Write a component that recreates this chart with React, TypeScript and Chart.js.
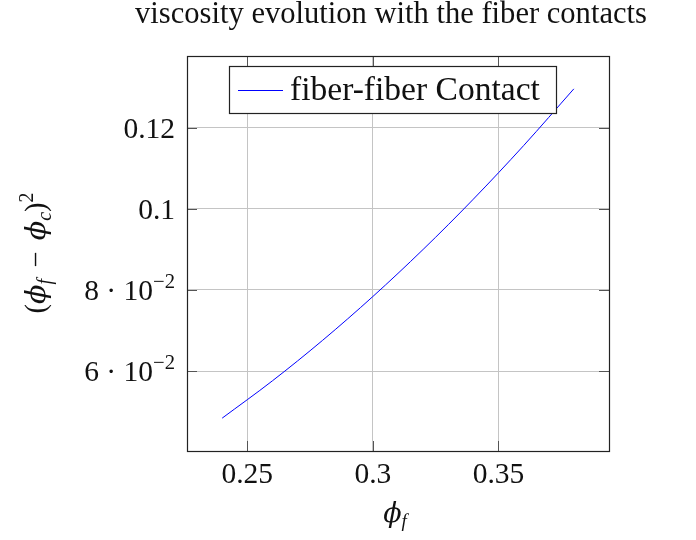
import React, { useEffect, useRef } from "react";
import { Chart, registerables } from "chart.js";
Chart.register(...registerables);

// ---- data ----
const phiF = [0.24, 0.26, 0.28, 0.3, 0.32, 0.34, 0.36, 0.38];
const contactValues = [0.0484, 0.0576, 0.0676, 0.0784, 0.09, 0.1024, 0.1156, 0.1296];
const xTicks = [0.25, 0.3, 0.35];
const xTickLabels = ["0.25", "0.3", "0.35"];
const yTicks = [0.06, 0.08, 0.1, 0.12];
const yTickLabels = ["6 · 10^−2", "8 · 10^−2", "0.1", "0.12"];
const titleText = "viscosity evolution with the fiber contacts";
const seriesLabel = "fiber-fiber Contact";

const SERIF = '"Liberation Serif", "DejaVu Serif", serif';
const MATH = '"DejaVu Serif", "Liberation Serif", serif';

type Seg = { t: string; it?: boolean; sup?: boolean; sub?: boolean; math?: boolean; gap?: number };

function segFont(s: Seg, size: number) {
  const sz = s.sup || s.sub ? size * 0.7 : size;
  return `${s.it ? "italic " : ""}${sz}px ${s.math ? MATH : SERIF}`;
}
function segWidth(ctx: CanvasRenderingContext2D, s: Seg, size: number) {
  ctx.font = segFont(s, size);
  return ctx.measureText(s.t).width + (s.gap || 0) * size;
}
function measureRich(ctx: CanvasRenderingContext2D, segs: Seg[], size: number) {
  let w = 0;
  for (const s of segs) w += segWidth(ctx, s, size);
  return w;
}
function fitSize(ctx: CanvasRenderingContext2D, segs: Seg[], target: number) {
  return (24 * target) / measureRich(ctx, segs, 24);
}
function drawRich(
  ctx: CanvasRenderingContext2D,
  segs: Seg[],
  size: number,
  x: number,
  y: number,
  align: "left" | "center" | "right"
) {
  const w = measureRich(ctx, segs, size);
  let cx = align === "left" ? x : align === "center" ? x - w / 2 : x - w;
  ctx.textAlign = "left";
  ctx.textBaseline = "alphabetic";
  for (const s of segs) {
    ctx.font = segFont(s, size);
    const dy = s.sup ? -0.42 * size : s.sub ? 0.2 * size : 0;
    const g = ((s.gap || 0) * size) / 2;
    ctx.fillText(s.t, cx + g, y + dy);
    cx += segWidth(ctx, s, size);
  }
}
function parseTick(label: string): Seg[] {
  const i = label.indexOf("^");
  if (i < 0) return [{ t: label }];
  return [{ t: label.slice(0, i) }, { t: label.slice(i + 1), sup: true }];
}

const decorPlugin = {
  id: "decor",
  afterDraw(chart: any) {
    const ctx: CanvasRenderingContext2D = chart.ctx;
    const { left, right, top, bottom } = chart.chartArea;
    const xs = chart.scales.x;
    const ys = chart.scales.y;
    ctx.save();
    // inward ticks
    ctx.strokeStyle = "#555";
    ctx.lineWidth = 1;
    const TL = 10;
    ctx.beginPath();
    for (const v of xTicks) {
      const px = Math.round(xs.getPixelForValue(v)) + 0.5;
      ctx.moveTo(px, bottom);
      ctx.lineTo(px, bottom - TL);
      ctx.moveTo(px, top);
      ctx.lineTo(px, top + TL);
    }
    for (const v of yTicks) {
      const py = Math.round(ys.getPixelForValue(v)) + 0.5;
      ctx.moveTo(left, py);
      ctx.lineTo(left + TL, py);
      ctx.moveTo(right, py);
      ctx.lineTo(right - TL, py);
    }
    ctx.stroke();
    // frame
    ctx.strokeStyle = "#222";
    ctx.lineWidth = 1.2;
    ctx.strokeRect(Math.round(left) + 0.5, Math.round(top) + 0.5, Math.round(right - left), Math.round(bottom - top));

    ctx.fillStyle = "#111";
    const FS = 29.5;
    // x tick labels
    xTicks.forEach((v, i) => {
      const px = xs.getPixelForValue(v);
      drawRich(ctx, [{ t: xTickLabels[i] }], FS, px, 482.5, "center");
    });
    // y tick labels
    yTicks.forEach((v, i) => {
      const py = ys.getPixelForValue(v);
      drawRich(ctx, parseTick(yTickLabels[i]), FS, 175, py + 10, "right");
    });
    // x title
    const xt: Seg[] = [
      { t: "ϕ", it: true, math: true },
      { t: "f", it: true, sub: true },
    ];
    drawRich(ctx, xt, 27, 395, 522, "center");
    // y title
    const yt: Seg[] = [
      { t: "(" },
      { t: "ϕ", it: true, math: true },
      { t: "f", it: true, sub: true },
      { t: "−", gap: 0.8 },
      { t: "ϕ", it: true, math: true },
      { t: "c", it: true, sub: true },
      { t: ")" },
      { t: "2", sup: true },
    ];
    ctx.save();
    ctx.translate(45, 253);
    ctx.rotate(-Math.PI / 2);
    drawRich(ctx, yt, 28.5, 0, 0, "center");
    ctx.restore();
    // title
    const tt: Seg[] = [{ t: titleText }];
    drawRich(ctx, tt, fitSize(ctx, tt, 512), 391, 23, "center");
    // legend
    ctx.fillStyle = "#fff";
    ctx.fillRect(229.5, 66.5, 327, 47);
    ctx.strokeStyle = "#222";
    ctx.lineWidth = 1.2;
    ctx.strokeRect(229.5, 66.5, 327, 47);
    ctx.strokeStyle = chart.data.datasets[0].borderColor;
    ctx.lineWidth = 1;
    ctx.beginPath();
    ctx.moveTo(238, 90.5);
    ctx.lineTo(283, 90.5);
    ctx.stroke();
    ctx.fillStyle = "#111";
    const lt: Seg[] = [{ t: chart.data.datasets[0].label }];
    drawRich(ctx, lt, fitSize(ctx, lt, 250), 290, 99.5, "left");
    ctx.restore();
  },
};

export default function App() {
  const ref = useRef<HTMLCanvasElement | null>(null);
  useEffect(() => {
    if (!ref.current) return;
    const chart = new Chart(ref.current, {
      type: "line",
      data: {
        datasets: [
          {
            label: seriesLabel,
            data: phiF.map((x, i) => ({ x, y: contactValues[i] })),
            borderColor: "#0000ff",
            borderWidth: 1,
            pointRadius: 0,
            cubicInterpolationMode: "monotone",
            fill: false,
          },
        ],
      },
      options: {
        animation: false,
        responsive: false,
        events: [],
        layout: { padding: { top: 56, right: 87, left: 0, bottom: 0 } },
        plugins: {
          legend: { display: false },
          title: { display: false },
          tooltip: { enabled: false },
        },
        scales: {
          x: {
            type: "linear",
            min: 0.226,
            max: 0.394,
            afterBuildTicks: (s: any) => {
              s.ticks = xTicks.map((value) => ({ value }));
            },
            afterFit: (s: any) => {
              s.height = 89;
            },
            ticks: { display: false },
            grid: { color: "#c4c4c4", lineWidth: 1, drawTicks: false, tickLength: 0 },
            border: { display: false },
          },
          y: {
            type: "linear",
            min: 0.0403,
            max: 0.1377,
            afterBuildTicks: (s: any) => {
              s.ticks = yTicks.map((value) => ({ value }));
            },
            afterFit: (s: any) => {
              s.width = 187;
            },
            ticks: { display: false },
            grid: { color: "#c4c4c4", lineWidth: 1, drawTicks: false, tickLength: 0 },
            border: { display: false },
          },
        },
      },
      plugins: [decorPlugin],
    });
    return () => chart.destroy();
  }, []);
  return (
    <div style={{ position: "absolute", left: 0, top: 0, width: 696, height: 540, background: "#fff" }}>
      <canvas ref={ref} width={696} height={540} style={{ display: "block" }} />
    </div>
  );
}
